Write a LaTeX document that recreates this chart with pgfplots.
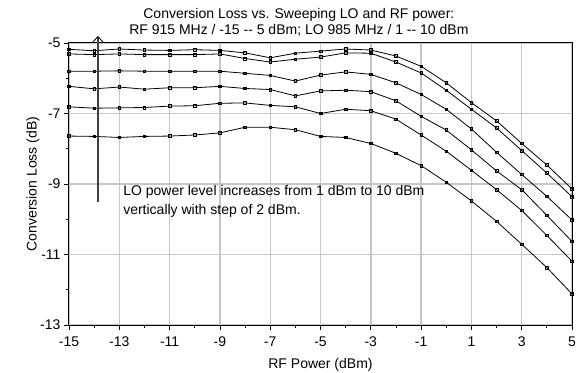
\documentclass[border=0pt]{standalone}
\usepackage{fontspec}
\setmainfont{Liberation Sans}
\usepackage{pgfplots}
\pgfplotsset{compat=1.18}
\usetikzlibrary{arrows.meta}

\pgfplotstableread{
x c1 c2 c3 c4 c5 c6
-15 -5.18 -5.31 -5.80 -6.23 -6.81 -7.64
-14 -5.22 -5.33 -5.80 -6.30 -6.85 -7.65
-13 -5.17 -5.31 -5.79 -6.25 -6.84 -7.68
-12 -5.20 -5.33 -5.80 -6.31 -6.83 -7.65
-11 -5.21 -5.33 -5.80 -6.27 -6.79 -7.64
-10 -5.19 -5.33 -5.80 -6.27 -6.78 -7.61
-9 -5.21 -5.31 -5.80 -6.23 -6.71 -7.55
-8 -5.28 -5.44 -5.86 -6.29 -6.70 -7.39
-7 -5.42 -5.54 -5.92 -6.32 -6.77 -7.39
-6 -5.29 -5.46 -6.08 -6.50 -6.81 -7.46
-5 -5.23 -5.40 -5.91 -6.36 -7.00 -7.65
-4 -5.17 -5.28 -5.82 -6.34 -6.88 -7.68
-3 -5.20 -5.29 -5.89 -6.38 -6.92 -7.85
-2 -5.37 -5.54 -6.13 -6.64 -7.16 -8.13
-1 -5.66 -5.85 -6.46 -7.08 -7.61 -8.48
0 -6.13 -6.34 -6.88 -7.47 -8.07 -8.95
1 -6.69 -6.88 -7.44 -8.03 -8.61 -9.48
2 -7.21 -7.41 -8.10 -8.63 -9.16 -10.06
3 -7.85 -8.05 -8.73 -9.16 -9.75 -10.71
4 -8.46 -8.69 -9.35 -9.89 -10.46 -11.37
5 -9.14 -9.36 -10.02 -10.63 -11.19 -12.12
}\datatable

\begin{document}
\begin{tikzpicture}
\begin{axis}[
  name=ax,
  scale only axis,
  width=503bp, height=282bp,
  xmin=-15, xmax=5, ymin=-13, ymax=-5,
  xtick={-15,-13,...,5},
  ytick={-13,-11,...,-5},
  minor xtick={-14,-12,...,4},
  minor ytick={-12,-10,-8,-6},
  tick align=outside,
  major tick length=5bp,
  minor tick length=3bp,
  tick style={black, line width=0.8bp},
  xtick pos=left, ytick pos=left,
  grid=major,
  major grid style={gray!45, line width=1.4bp},
  axis line style={black, line width=1bp},
  /pgf/number format/assume math mode=true,
  tick label style={font=\fontsize{14bp}{16bp}\selectfont},
  xticklabel style={yshift=-3bp},
  label style={font=\fontsize{14bp}{16bp}\selectfont},
  xlabel={RF Power (dBm)},
  ylabel={Conversion Loss (dB)},
  xlabel style={yshift=-5bp},
  ylabel style={yshift=-6bp},
  clip=false,
  curve/.style={black, solid, line width=0.8bp, mark=square, mark size=1.3bp, mark options={solid, line width=0.6bp}},
]
\addplot[curve] table[x=x, y=c1] {\datatable};
\addplot[curve] table[x=x, y=c2] {\datatable};
\addplot[curve] table[x=x, y=c3] {\datatable};
\addplot[curve] table[x=x, y=c4] {\datatable};
\addplot[curve] table[x=x, y=c5] {\datatable};
\addplot[curve] table[x=x, y=c6] {\datatable};

\draw[black!75, line width=1.6bp, -{Straight Barb[length=6bp, width=11bp, line width=0.8bp, black]}] (axis cs:-13.85,-9.5) -- (axis cs:-13.85,-4.8);

\node[anchor=base west, font=\fontsize{14bp}{16bp}\selectfont, inner sep=0pt] at (axis cs:-12.85,-9.34) {LO power level increases from 1 dBm to 10 dBm};
\node[anchor=base west, font=\fontsize{14bp}{16bp}\selectfont, inner sep=0pt] at (axis cs:-12.85,-9.87) {vertically with step of 2 dBm.};

\node[anchor=base, font=\fontsize{14bp}{16bp}\selectfont, inner sep=0pt] at ([yshift=24bp]rel axis cs:0.457,1) {Conversion Loss vs. Sweeping LO and RF power:};
\node[anchor=base, font=\fontsize{14bp}{16bp}\selectfont, inner sep=0pt] at ([yshift=8bp]rel axis cs:0.457,1) {RF 915 MHz / -15 -{}- 5 dBm; LO 985 MHz / 1 -{}- 10 dBm};
\end{axis}
\pgfresetboundingbox
\path ([shift={(-69bp,-48bp)}]ax.south west) rectangle ([shift={(8bp,43bp)}]ax.north east);
\end{tikzpicture}
\end{document}
